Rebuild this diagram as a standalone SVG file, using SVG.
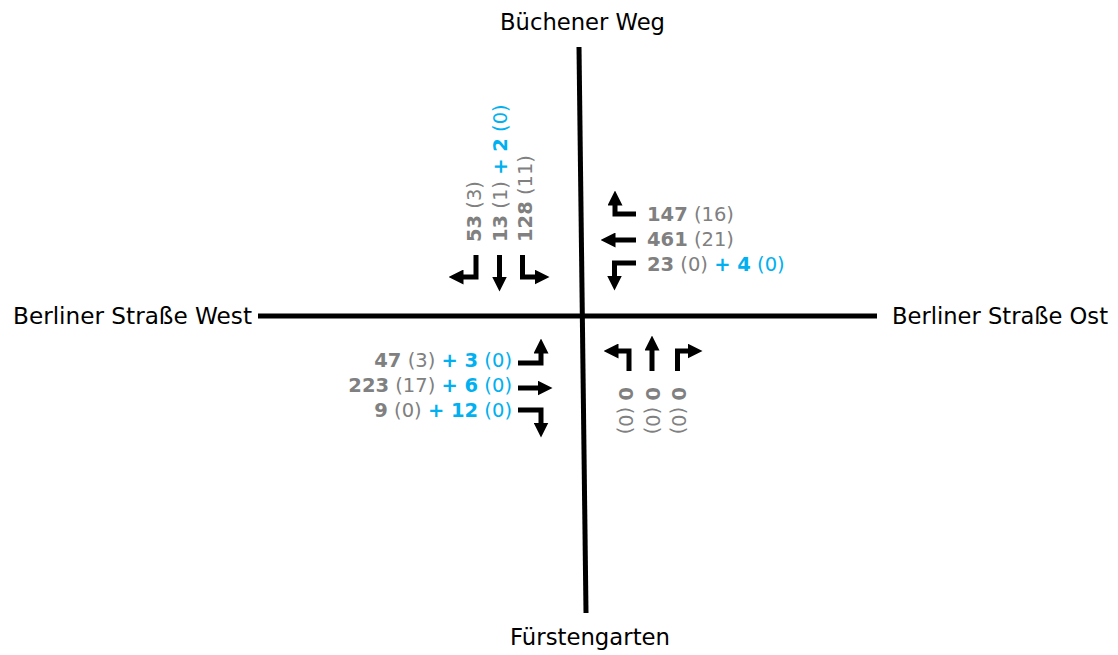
<svg xmlns="http://www.w3.org/2000/svg" width="1118" height="655" viewBox="0 0 1118 655">
<defs>
<marker id="ah" viewBox="0 0 15 15" refX="0.5" refY="7.5" markerWidth="15" markerHeight="15" markerUnits="userSpaceOnUse" orient="auto"><path d="M0,0 L15,7.5 L0,15 Z" fill="#000"/></marker>
</defs>
<style>
.road{stroke:#000;stroke-width:5;fill:none}
.arr{stroke:#000;stroke-width:5;fill:none;stroke-linejoin:miter;marker-end:url(#ah)}
.name{font-family:"DejaVu Sans",Verdana,sans-serif;font-size:23px;fill:#000}
.lbl{font-family:"DejaVu Sans",Verdana,sans-serif;font-size:19.5px;fill:#808080}
.b{font-weight:bold}
.blue{fill:#00B0F0}
</style>
<rect width="1118" height="655" fill="#fff"/>
<g id="connectors">
<line class="road" x1="258" y1="316" x2="877" y2="316"/>
<line class="road" x1="579" y1="47" x2="586" y2="613"/>
</g>
<g id="name-north"><text class="name" x="500" y="30" textLength="165" lengthAdjust="spacingAndGlyphs">Büchener Weg</text></g>
<g id="name-south"><text class="name" x="510" y="645" textLength="160" lengthAdjust="spacingAndGlyphs">Fürstengarten</text></g>
<g id="name-west"><text class="name" x="13" y="324" textLength="239" lengthAdjust="spacingAndGlyphs">Berliner Straße West</text></g>
<g id="name-east"><text class="name" x="892" y="324" textLength="216" lengthAdjust="spacingAndGlyphs">Berliner Straße Ost</text></g>
<g id="approach-north">
<path class="arr" d="M476,255 V277 H463"/>
<path class="arr" d="M499.5,255 V277"/>
<path class="arr" d="M522.5,255 V277 H535"/>
<text class="lbl" transform="translate(481,242) rotate(-90)"><tspan class="b">53</tspan> (3)</text>
<text class="lbl" transform="translate(507,242) rotate(-90)"><tspan class="b">13</tspan> (1) <tspan class="b blue">+ 2</tspan><tspan class="blue"> (0)</tspan></text>
<text class="lbl" transform="translate(532,242) rotate(-90)"><tspan class="b">128</tspan> (11)</text>
</g>
<g id="approach-east">
<path class="arr" d="M636,214 H615 V205"/>
<path class="arr" d="M636,240 H615"/>
<path class="arr" d="M636,263 H614.5 V276"/>
<text class="lbl" x="647" y="221"><tspan class="b">147</tspan> (16)</text>
<text class="lbl" x="647" y="246"><tspan class="b">461</tspan> (21)</text>
<text class="lbl" x="647" y="271"><tspan class="b">23</tspan> (0) <tspan class="b blue">+ 4</tspan><tspan class="blue"> (0)</tspan></text>
</g>
<g id="approach-south">
<path class="arr" d="M629,371 V351 H618"/>
<path class="arr" d="M652,371 V350"/>
<path class="arr" d="M677.5,371 V351 H688"/>
<text class="lbl" transform="translate(619,387) rotate(90)"><tspan class="b">0</tspan> (0)</text>
<text class="lbl" transform="translate(645.5,387) rotate(90)"><tspan class="b">0</tspan> (0)</text>
<text class="lbl" transform="translate(672,387) rotate(90)"><tspan class="b">0</tspan> (0)</text>
</g>
<g id="approach-west">
<path class="arr" d="M518,363 H541 V353"/>
<path class="arr" d="M518,388 H538"/>
<path class="arr" d="M518,410 H541 V423"/>
<text class="lbl" x="512" y="367" text-anchor="end"><tspan class="b">47</tspan> (3) <tspan class="b blue">+ 3</tspan><tspan class="blue"> (0)</tspan></text>
<text class="lbl" x="512" y="392" text-anchor="end"><tspan class="b">223</tspan> (17) <tspan class="b blue">+ 6</tspan><tspan class="blue"> (0)</tspan></text>
<text class="lbl" x="512" y="417" text-anchor="end"><tspan class="b">9</tspan> (0) <tspan class="b blue">+ 12</tspan><tspan class="blue"> (0)</tspan></text>
</g>
</svg>
